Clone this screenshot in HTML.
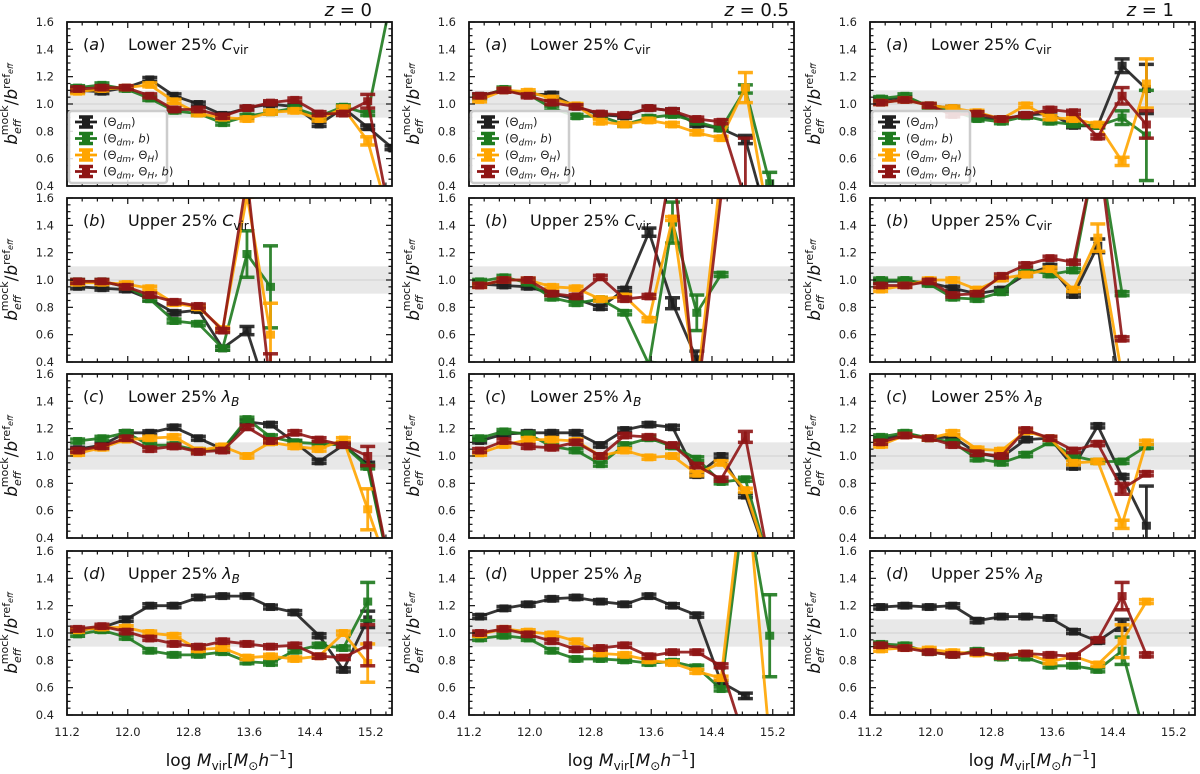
<!DOCTYPE html>
<html><head><meta charset="utf-8">
<style>
html,body{margin:0;padding:0;background:#fff;}
svg{display:block;font-family:"DejaVu Sans","Liberation Sans",sans-serif;}
</style></head>
<body>
<svg id="chart" width="1200" height="774" viewBox="0 0 1200 774" xmlns="http://www.w3.org/2000/svg"></svg>
<script>
// ---- categories ----
const xs = [11.34,11.66,11.98,12.29,12.61,12.93,13.25,13.57,13.88,14.20,14.52,14.84,15.16,15.48];
const xTicks = [11.2,12.0,12.8,13.6,14.4,15.2];
const xTickLabels = ["11.2","12.0","12.8","13.6","14.4","15.2"];
const yTicks = [0.4,0.6,0.8,1.0,1.2,1.4,1.6];
const yTickLabels = ["0.4","0.6","0.8","1.0","1.2","1.4","1.6"];
const redshiftLabels = ["z = 0","z = 0.5","z = 1"];
const panelLetters = ["a","b","c","d"];
const panelTitles = ["Lower 25% ","Upper 25% ","Lower 25% ","Upper 25% "];
const panelVars = ["C","C","λ","λ"];
const panelSubs = ["vir","vir","B","B"];
const seriesNames = ["dm","b","H","Hb"];

// ---- row a (lower C_vir) ----
const a0_dm = [1.10,1.09,1.12,1.18,1.06,1.00,0.92,0.97,1.00,0.98,0.85,0.97,0.83,0.68];
const a0_b  = [1.12,1.14,1.11,1.04,0.95,0.93,0.86,0.91,0.94,0.97,0.91,0.98,0.93,1.80];
const a0_H  = [1.09,1.11,1.12,1.14,1.02,0.93,0.90,0.89,0.94,0.95,0.89,0.97,0.73,0.10];
const a0_Hb = [1.11,1.12,1.12,1.06,0.96,0.96,0.91,0.97,1.01,1.03,0.93,0.93,1.02,0.10];
const a1_dm = [1.06,1.10,1.07,1.07,0.98,0.92,0.91,0.97,0.95,0.85,0.82,0.74,0.10,null];
const a1_b  = [1.05,1.11,1.07,0.97,0.91,0.91,0.85,0.90,0.92,0.87,0.82,1.11,0.42,null];
const a1_H  = [1.03,1.10,1.09,1.04,0.99,0.87,0.85,0.88,0.85,0.79,0.75,1.12,0.10,null];
const a1_Hb = [1.06,1.10,1.06,1.01,0.98,0.93,0.92,0.97,0.95,0.89,0.87,0.30,null,null];
const a2_dm = [1.03,1.04,0.99,0.97,0.90,0.89,0.92,0.93,0.84,0.84,1.28,1.11,null,null];
const a2_b  = [1.04,1.06,0.98,0.95,0.89,0.87,0.91,0.87,0.85,0.84,0.90,0.77,null,null];
const a2_H  = [1.01,1.03,0.99,0.97,0.94,0.89,0.99,0.90,0.89,0.85,0.58,1.15,null,null];
const a2_Hb = [1.01,1.03,0.99,0.92,0.93,0.89,0.92,0.96,0.94,0.76,1.06,0.85,null,null];
// ---- row b (upper C_vir) ----
const b0_dm = [0.95,0.94,0.93,0.86,0.76,0.78,0.50,0.63,0.10,null,null,null,null,null];
const b0_b  = [0.99,0.99,0.95,0.86,0.70,0.68,0.50,1.19,0.95,null,null,null,null,null];
const b0_H  = [0.98,0.98,0.97,0.94,0.83,0.80,0.64,1.62,0.60,null,null,null,null,null];
const b0_Hb = [0.99,0.99,0.95,0.89,0.84,0.81,0.63,1.75,0.20,null,null,null,null,null];
const b1_dm = [0.97,0.96,0.95,0.90,0.86,0.80,0.93,1.35,0.83,0.42,null,null,null,null];
const b1_b  = [0.99,1.02,0.98,0.87,0.83,0.86,0.76,0.38,1.42,0.76,1.04,null,null,null];
const b1_H  = [0.96,1.00,1.00,0.95,0.94,0.86,0.88,0.71,1.45,0.20,1.80,null,null,null];
const b1_Hb = [0.96,1.00,1.00,0.90,0.88,1.02,0.86,0.88,1.90,0.10,1.62,null,null,null];
const b2_dm = [0.99,0.99,0.98,0.94,0.90,0.93,1.04,1.10,0.89,1.25,0.10,null,null,null];
const b2_b  = [1.00,1.00,0.97,0.87,0.86,0.91,1.08,1.04,1.07,2.00,0.90,null,null,null];
const b2_H  = [0.93,0.96,1.00,1.00,0.93,1.01,1.04,1.08,0.93,1.31,0.30,null,null,null];
const b2_Hb = [0.96,0.96,0.99,0.89,0.90,1.03,1.11,1.16,1.13,2.00,0.57,null,null,null];
// ---- row c (lower lambda_B) ----
const c0_dm = [1.05,1.08,1.17,1.17,1.21,1.13,1.05,1.25,1.23,1.10,0.96,1.08,0.94,0.10];
const c0_b  = [1.11,1.13,1.17,1.08,1.08,1.04,1.05,1.27,1.14,1.10,1.09,1.08,0.92,0.10];
const c0_H  = [1.02,1.06,1.12,1.13,1.14,1.04,1.07,1.00,1.10,1.07,1.05,1.12,0.61,0.10];
const c0_Hb = [1.04,1.07,1.13,1.05,1.07,1.03,1.04,1.21,1.11,1.17,1.12,1.08,1.00,0.10];
const c1_dm = [1.11,1.16,1.17,1.17,1.17,1.08,1.19,1.23,1.21,0.86,1.00,0.71,0.20,null];
const c1_b  = [1.13,1.18,1.16,1.07,1.04,0.94,1.08,1.13,1.07,0.98,0.81,0.83,0.20,null];
const c1_H  = [1.02,1.08,1.12,1.12,1.11,1.00,1.04,0.99,1.00,0.87,0.95,0.75,0.20,null];
const c1_Hb = [1.04,1.11,1.07,1.06,1.10,1.00,1.15,1.14,1.08,0.93,0.83,1.14,0.20,null];
const c2_dm = [1.12,1.16,1.13,1.14,1.02,0.99,1.12,1.13,0.92,1.22,0.85,0.49,null,null];
const c2_b  = [1.14,1.17,1.13,1.10,0.98,0.95,1.01,1.10,1.00,0.96,0.96,1.07,null,null];
const c2_H  = [1.08,1.15,1.13,1.17,1.05,1.04,1.18,1.13,0.95,0.96,0.50,1.10,null,null];
const c2_Hb = [1.10,1.15,1.13,1.08,1.02,1.00,1.19,1.13,1.04,1.09,0.76,0.87,null,null];
// ---- row d (upper lambda_B) ----
const d0_dm = [1.02,1.04,1.10,1.20,1.20,1.26,1.27,1.27,1.19,1.15,0.98,0.73,1.10,null];
const d0_b  = [0.99,1.02,0.97,0.87,0.84,0.84,0.86,0.79,0.78,0.87,0.91,0.89,1.23,null];
const d0_H  = [1.02,1.04,1.04,1.00,0.98,0.88,0.89,0.82,0.83,0.81,0.83,1.00,0.78,null];
const d0_Hb = [1.03,1.05,1.01,0.96,0.92,0.90,0.94,0.92,0.90,0.91,0.83,0.82,0.91,null];
const d1_dm = [1.12,1.18,1.21,1.25,1.26,1.23,1.21,1.27,1.20,1.13,0.64,0.54,null,null];
const d1_b  = [0.96,0.98,0.96,0.87,0.81,0.81,0.80,0.78,0.79,0.75,0.59,2.00,0.98,null];
const d1_H  = [0.99,1.03,1.01,0.99,0.94,0.85,0.84,0.80,0.78,0.72,0.67,2.20,0.20,null];
const d1_Hb = [1.00,1.03,0.99,0.94,0.88,0.89,0.91,0.83,0.86,0.86,0.76,0.20,null,null];
const d2_dm = [1.19,1.20,1.19,1.20,1.09,1.12,1.12,1.11,1.01,0.94,1.06,null,null,null];
const d2_b  = [0.92,0.91,0.86,0.84,0.87,0.82,0.82,0.76,0.76,0.73,0.87,0.20,null,null];
const d2_H  = [0.88,0.89,0.88,0.86,0.85,0.83,0.85,0.79,0.83,0.77,0.94,1.23,null,null];
const d2_Hb = [0.91,0.89,0.86,0.84,0.86,0.83,0.85,0.84,0.83,0.95,1.27,0.84,null,null];

// ---- error bars (index -> half-width), default small ----
const errs = {
 a0_H:{12:0.03}, a0_Hb:{12:0.05}, a1_dm:{11:0.03}, a1_b:{11:0.03,12:0.08}, a1_H:{11:0.11}, a1_Hb:{11:0.45},
 a2_dm:{10:0.05,11:0.18}, a2_b:{10:0.05,11:0.33}, a2_H:{10:0.03,11:0.18}, a2_Hb:{10:0.06,11:0.1},
 b0_dm:{7:0.03}, b0_b:{7:0.17,8:0.30}, b0_H:{8:0.23}, b0_Hb:{8:0.26},
 b1_dm:{7:0.03,8:0.04,9:0.06}, b1_b:{8:0.15,9:0.13}, b2_dm:{9:0.05}, b2_H:{9:0.1},
 c0_H:{12:0.15}, c0_Hb:{12:0.07}, c1_Hb:{11:0.04}, c2_dm:{11:0.29}, c2_H:{10:0.03}, c2_Hb:{10:0.04},
 d0_dm:{12:0.06}, d0_b:{12:0.14}, d0_H:{12:0.14}, d0_Hb:{12:0.15}, d1_b:{12:0.3}, d1_dm:{11:0.02},
 d2_dm:{10:0.04}, d2_b:{10:0.1}, d2_H:{10:0.12}, d2_Hb:{10:0.1}
};

const colors = {dm:"#1f1f1f", b:"#1e7a1e", H:"#ffa500", Hb:"#8f1515"};
const NS = "http://www.w3.org/2000/svg";
const svg = document.getElementById("chart");
const colLeft = [67,469,870];
const rowTop = [22,198,374,551];
const zTitleRight = [372,789,1174];
const PW = 325, PH = 164;
const XMIN = 11.2, XMAX = 15.48, YMIN = 0.4, YMAX = 1.6;

function mk(tag, attrs, parent){
  const e = document.createElementNS(NS, tag);
  for (const k in attrs) e.setAttribute(k, attrs[k]);
  (parent||svg).appendChild(e);
  return e;
}
const defs = mk("defs", {});

function drawPanel(r, c){
  const L = colLeft[c], T = rowTop[r];
  const xS = v => L + (v - XMIN) / (XMAX - XMIN) * PW;
  const yS = v => T + (YMAX - v) / (YMAX - YMIN) * PH;
  const g = mk("g", {});
  
  
  const cp = mk("clipPath", {id:"cp"+r+c}, defs);
  mk("rect", {x:L, y:T, width:PW, height:PH}, cp);
  const band = mk("rect", {x:L, y:yS(1.1), width:PW, height:yS(0.9)-yS(1.1), fill:"#e8e8e8"}, g);
  
  
  const ref = mk("line", {x1:L, x2:L+PW, y1:yS(1), y2:yS(1), stroke:"#cfcfcf", "stroke-width":1}, g);
  
  
  const pfx = "abcd"[r] + c;
  const dg = mk("g", {"clip-path":"url(#cp"+r+c+")"}, g);
  seriesNames.forEach(s => {
    const vals = eval(pfx + "_" + s);
    const er = errs[pfx + "_" + s] || {};
    const sg = mk("g", {}, dg);
    
    
    let d = "", started = false;
    vals.forEach((v,i) => {
      if (v === null) { started = false; return; }
      d += (started ? "L" : "M") + xS(xs[i]).toFixed(1) + "," + yS(v).toFixed(1);
      started = true;
    });
    mk("path", {d:d, fill:"none", stroke:colors[s], "stroke-width":2.8, "stroke-opacity":0.9, "stroke-linejoin":"round"}, sg);
    vals.forEach((v,i) => {
      if (v === null) return;
      const e = er[i] !== undefined ? er[i] : 0.014;
      const x = xS(xs[i]);
      const pg = mk("g", {}, sg);
      
      
      mk("line", {x1:x, x2:x, y1:yS(v+e), y2:yS(v-e), stroke:colors[s], "stroke-width":2.8, opacity:0.9}, pg);
      mk("line", {x1:x-7.5, x2:x+7.5, y1:yS(v+e), y2:yS(v+e), stroke:colors[s], "stroke-width":3.5, opacity:0.9}, pg);
      mk("line", {x1:x-7.5, x2:x+7.5, y1:yS(v-e), y2:yS(v-e), stroke:colors[s], "stroke-width":3.5, opacity:0.9}, pg);
      mk("rect", {x:x-4.5, y:yS(v)-4, width:9, height:8, fill:colors[s], opacity:0.9}, pg);
    });
  });
  const fr = mk("rect", {x:L, y:T, width:PW, height:PH, fill:"none", stroke:"#111", "stroke-width":1.8}, g);
  
  
  for (let v = 11.2; v <= XMAX + 1e-6; v += 0.2) {
    const major = Math.abs(((v - 11.2) / 0.8) - Math.round((v - 11.2) / 0.8)) < 1e-3;
    const len = major ? 6 : 3.5, x = xS(v);
    mk("line", {x1:x, x2:x, y1:T+PH, y2:T+PH-len, stroke:"#111", "stroke-width":1.2}, g);
    mk("line", {x1:x, x2:x, y1:T, y2:T+len, stroke:"#111", "stroke-width":1.2}, g);
  }
  for (let v = 0.4; v <= 1.6 + 1e-6; v += 0.05) {
    const major = Math.abs(v*5 - Math.round(v*5)) < 1e-3;
    const len = major ? 6 : 3.5, y = yS(v);
    mk("line", {x1:L, x2:L+len, y1:y, y2:y, stroke:"#111", "stroke-width":1.2}, g);
    mk("line", {x1:L+PW, x2:L+PW-len, y1:y, y2:y, stroke:"#111", "stroke-width":1.2}, g);
  }
  yTicks.forEach((v,i) => {
    const t = mk("text", {x:L-13, y:yS(v)+4, "text-anchor":"end", "font-size":11.5, fill:"#222"}, g);
    t.textContent = yTickLabels[i];
    
    
  });
  if (r === 3) {
    xTicks.forEach((v,i) => {
      const t = mk("text", {x:xS(v), y:T+PH+21, "text-anchor":"middle", "font-size":11.5, fill:"#222"}, g);
      t.textContent = xTickLabels[i];
      
      
    });
    const xl = mk("text", {x:L+PW/2, y:T+PH+51, "text-anchor":"middle", "font-size":17, fill:"#111"}, g);
    xl.innerHTML = 'log <tspan font-style="italic">M</tspan><tspan font-size="12" dy="4">vir</tspan><tspan dy="-4">[</tspan><tspan font-style="italic">M</tspan><tspan font-size="12" dy="4">⊙</tspan><tspan font-style="italic" dy="-4">h</tspan><tspan font-size="12" dy="-7">−1</tspan><tspan dy="7">]</tspan>';
    
    
  }
  const yc = T + PH/2, yx = L - 50;
  const yl = mk("text", {x:yx, y:yc, "text-anchor":"middle", "font-size":17, fill:"#111", transform:"rotate(-90 "+yx+" "+yc+")"}, g);
  yl.innerHTML = '<tspan font-style="italic">b</tspan><tspan font-size="11" font-style="italic" dy="4">eff</tspan><tspan font-size="11" dx="-16" dy="-13">mock</tspan><tspan dy="9">/</tspan><tspan font-style="italic">b</tspan><tspan font-size="11" dy="-7">ref</tspan><tspan font-size="8" font-style="italic" dy="3">eff</tspan>';
  
  
  const pl = mk("text", {x:L+16, y:T+28, "font-size":16, fill:"#111"}, g);
  pl.innerHTML = '(<tspan font-style="italic">' + panelLetters[r] + '</tspan>)';
  
  
  const pt = mk("text", {x:L+61, y:T+28, "font-size":16, fill:"#111"}, g);
  pt.innerHTML = panelTitles[r] + '<tspan font-style="italic">' + panelVars[r] + '</tspan><tspan font-size="12" dy="4"' + (panelSubs[r]==="B" ? ' font-style="italic"' : '') + '>' + panelSubs[r] + '</tspan>';
  
  
  if (r === 0) {
    const zt = mk("text", {x:zTitleRight[c], y:16, "text-anchor":"end", "font-size":18, fill:"#111"}, svg);
    const parts = redshiftLabels[c].split(" = ");
    zt.innerHTML = '<tspan font-style="italic">' + parts[0] + '</tspan> = ' + parts[1];
    
    
    const lg = mk("g", {}, g);
    
    
    mk("rect", {x:L+2, y:T+89, width:98, height:72, rx:3, fill:"#fff", "fill-opacity":0.85, stroke:"#cccccc", "stroke-width":2.5}, lg);
    const labels = ['(Θ<tspan font-size="9" font-style="italic" dy="3">dm</tspan><tspan dy="-3">)</tspan>',
      '(Θ<tspan font-size="9" font-style="italic" dy="3">dm</tspan><tspan dy="-3">, </tspan><tspan font-style="italic">b</tspan>)',
      '(Θ<tspan font-size="9" font-style="italic" dy="3">dm</tspan><tspan dy="-3">, Θ</tspan><tspan font-size="9" font-style="italic" dy="3">H</tspan><tspan dy="-3">)</tspan>',
      '(Θ<tspan font-size="9" font-style="italic" dy="3">dm</tspan><tspan dy="-3">, Θ</tspan><tspan font-size="9" font-style="italic" dy="3">H</tspan><tspan dy="-3">, </tspan><tspan font-style="italic">b</tspan>)'];
    seriesNames.forEach((s,i) => {
      const ey = T + 100 + i * 16.5;
      const eg = mk("g", {}, lg);
      
      
      mk("line", {x1:L+8, x2:L+30, y1:ey, y2:ey, stroke:colors[s], "stroke-width":2.8}, eg);
      mk("line", {x1:L+19, x2:L+19, y1:ey-5, y2:ey+5, stroke:colors[s], "stroke-width":2.8}, eg);
      mk("line", {x1:L+12, x2:L+26, y1:ey-5, y2:ey-5, stroke:colors[s], "stroke-width":3.5}, eg);
      mk("line", {x1:L+12, x2:L+26, y1:ey+5, y2:ey+5, stroke:colors[s], "stroke-width":3.5}, eg);
      mk("rect", {x:L+15, y:ey-4, width:8, height:8, fill:colors[s]}, eg);
      const t = mk("text", {x:L+36, y:ey+4, "font-size":11.5, fill:"#222"}, eg);
      t.innerHTML = labels[i];
    });
  }
}
for (let r = 0; r < 4; r++) for (let c = 0; c < 3; c++) drawPanel(r, c);
</script>
</body></html>
